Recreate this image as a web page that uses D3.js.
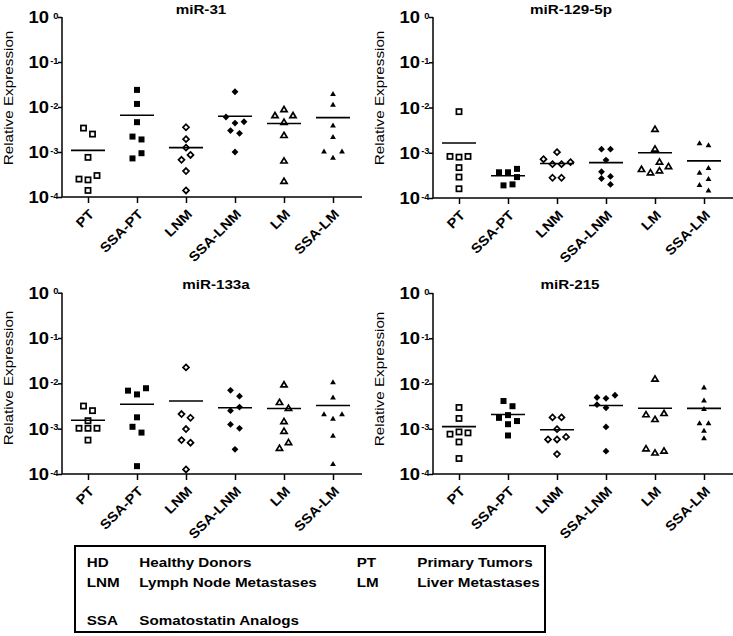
<!DOCTYPE html>
<html><head><meta charset="utf-8">
<script src="https://cdn.jsdelivr.net/npm/d3@7"></script>
<style>body{margin:0;background:#fff}svg{display:block}</style>
</head><body>
<svg id="c" width="733" height="636"></svg>
<script>
// ---------------- DATA ----------------
const categories = ["PT", "SSA-PT", "LNM", "SSA-LNM", "LM", "SSA-LM"];
const titles = ["miR-31", "miR-129-5p", "miR-133a", "miR-215"];
const yTickExponents = [0, -1, -2, -3, -4];
const yLabel = "Relative Expression";

const mir31 = [
  [2.5e-3, 3.4e-3, 7.6e-4, 2.4e-4, 2.5e-4, 3.0e-4, 1.4e-4],
  [0.024, 0.0117, 4.6e-3, 1.9e-3, 2.2e-3, 9.4e-4, 7.2e-4],
  [3.55e-3, 1.93e-3, 1.25e-3, 8.6e-4, 6.7e-4, 3.77e-4, 1.4e-4],
  [0.0218, 4.4e-3, 6.0e-3, 4.7e-3, 2.6e-3, 3.0e-3, 1.0e-3],
  [9.0e-3, 6.6e-3, 6.6e-3, 4.7e-3, 2.4e-3, 6.5e-4, 2.3e-4],
  [0.02, 0.0115, 4.0e-3, 2.2e-3, 7.6e-4, 1.05e-3, 1.05e-3]
];
const mir129 = [
  [8.1e-3, 8.0e-4, 8.3e-4, 8.3e-4, 4.7e-4, 2.9e-4, 1.6e-4],
  [3.7e-4, 3.7e-4, 4.4e-4, 2.9e-4, 2.0e-4, 1.9e-4],
  [1.03e-3, 5.6e-4, 5.6e-4, 6.2e-4, 7.2e-4, 2.8e-4, 2.8e-4],
  [1.2e-3, 1.2e-3, 6.9e-4, 3.0e-4, 3.8e-4, 2.7e-4, 2.0e-4],
  [3.4e-3, 1.24e-3, 6.4e-4, 4.1e-4, 3.7e-4, 5.1e-4, 4.4e-4],
  [1.5e-3, 1.67e-3, 4.7e-4, 3.7e-4, 2.7e-4, 2.0e-4, 1.5e-4]
];
const mir133a = [
  [2.5e-3, 3.16e-3, 1.5e-3, 1.02e-3, 1.02e-3, 1.02e-3, 5.6e-4],
  [5.7e-3, 6.9e-3, 7.8e-3, 1.78e-3, 8.2e-4, 1.1e-3, 1.49e-4],
  [0.0225, 1.74e-3, 2.1e-3, 9.8e-4, 4.9e-4, 5.6e-4, 1.26e-4],
  [5.2e-3, 7.0e-3, 3.0e-3, 2.5e-3, 1.02e-3, 1.24e-3, 3.5e-4],
  [9.5e-3, 2.9e-3, 3.9e-3, 1.48e-3, 9.0e-4, 5.1e-4, 3.8e-4],
  [0.0109, 5.0e-3, 1.7e-3, 2.14e-3, 2.14e-3, 7.2e-4, 1.7e-4]
];
const mir215 = [
  [2.95e-3, 1.69e-3, 8.5e-4, 7.6e-4, 8.1e-4, 5.1e-4, 2.2e-4],
  [3.15e-3, 4.1e-3, 2.0e-3, 1.74e-3, 1.48e-3, 1.26e-3, 7.1e-4],
  [1.78e-3, 1.78e-3, 9.8e-4, 5.8e-4, 5.8e-4, 6.6e-4, 2.75e-4],
  [4.7e-3, 4.9e-3, 5.5e-3, 3.4e-3, 2.9e-3, 1.1e-3, 3.2e-4],
  [0.0129, 1.65e-3, 2.1e-3, 2.24e-3, 3.0e-4, 3.7e-4, 3.3e-4],
  [8.4e-3, 4.3e-3, 2.8e-3, 1.35e-3, 1.35e-3, 9.3e-4, 6.3e-4]
];

const legendAbbrLeft = ["HD", "LNM", "", "SSA"];
const legendFullLeft = ["Healthy Donors", "Lymph Node Metastases", "", "Somatostatin Analogs"];
const legendAbbrRight = ["PT", "LM", "", ""];
const legendFullRight = ["Primary Tumors", "Liver Metastases", "", ""];

// ---------------- LAYOUT ----------------
const FONT = "'Liberation Sans', Arial, Helvetica, sans-serif";
const panels = [mir31, mir129, mir133a, mir215];
const layout = [
  {ox: 62,  top: 17,    bottom: 197, tx: 201, ty: 14,  lx: 13,  ly: 98},
  {ox: 433, top: 17,    bottom: 198, tx: 571, ty: 14,  lx: 384, ly: 98},
  {ox: 62,  top: 292.7, bottom: 474, tx: 216, ty: 289, lx: 13,  ly: 378},
  {ox: 433, top: 293,   bottom: 474, tx: 570, ty: 289, lx: 384, ly: 379}
];
const SPREAD = 9, TOUCH = 6.5;

const svg = d3.select("#c");

function label(parent, x, y, str, size, weight, anchor, sx, rot) {
  return parent.append("text")
    .attr("transform", `translate(${x},${y})` + (rot ? ` rotate(${rot})` : "") + ` scale(${sx},1)`)
    .attr("font-family", FONT).attr("font-size", size).attr("font-weight", weight)
    .attr("text-anchor", anchor).attr("fill", "#000").text(str);
}

function swarm(vals, y) {
  const placed = [];
  vals.forEach(v => {
    const py = y(v);
    const cands = [0];
    for (let k = 1; k < 8; k++) cands.push(-k * SPREAD, k * SPREAD);
    let off = 0;
    for (const c of cands) {
      if (!placed.some(p => Math.abs(p.dx - c) < SPREAD - 0.01 && Math.abs(p.py - py) < TOUCH)) { off = c; break; }
    }
    placed.push({v, py, dx: off});
  });
  const n = placed.length, comp = new Array(n).fill(-1);
  let nc = 0;
  for (let i = 0; i < n; i++) {
    if (comp[i] >= 0) continue;
    const st = [i]; comp[i] = nc;
    while (st.length) {
      const a = st.pop();
      for (let j = 0; j < n; j++) if (comp[j] < 0 && Math.abs(placed[j].py - placed[a].py) < TOUCH) { comp[j] = nc; st.push(j); }
    }
    nc++;
  }
  for (let k = 0; k < nc; k++) {
    const m = placed.filter((p, i) => comp[i] === k);
    const sh = -(d3.min(m, p => p.dx) + d3.max(m, p => p.dx)) / 2;
    m.forEach(p => p.dx += sh);
  }
  return placed;
}

function marker(parent, gi, cx, cy) {
  const open = gi % 2 === 0;
  const shape = Math.floor(gi / 2);
  let el;
  if (shape === 0) {
    const s = open ? 5.2 : 6;
    el = parent.append("rect").attr("x", cx - s / 2).attr("y", cy - s / 2).attr("width", s).attr("height", s);
  } else if (shape === 1) {
    const r = open ? 3.0 : 3.4;
    el = parent.append("path").attr("d", `M${cx},${cy - r}L${cx + r},${cy}L${cx},${cy + r}L${cx - r},${cy}Z`);
  } else {
    const w = open ? 6.2 : 5.8, h = open ? 5.2 : 5.0;
    el = parent.append("path").attr("d", `M${cx},${cy - h / 2}L${cx + w / 2},${cy + h / 2}L${cx - w / 2},${cy + h / 2}Z`);
  }
  if (open) el.attr("fill", "#fff").attr("stroke", "#000").attr("stroke-width", 1.7).attr("stroke-linejoin", "miter");
  else el.attr("fill", "#000");
}

panels.forEach((groups, pi) => {
  const L = layout[pi];
  const g = svg.append("g");
  const y = d3.scaleLog().domain([1e-4, 1]).range([L.bottom, L.top]);
  const x = d3.scalePoint().domain(categories).range([L.ox + 26, L.ox + 271]);

  // y axis
  const ya = g.append("g").attr("transform", `translate(${L.ox},0)`)
    .call(d3.axisLeft(y).tickValues(yTickExponents.map(e => Math.pow(10, e))).tickSize(4).tickFormat(""));
  ya.select(".domain").attr("stroke-width", 1.5).attr("d", `M0,${L.top}V${L.bottom}`);
  ya.selectAll(".tick line").attr("stroke-width", 1.5);

  // x axis
  const xa = g.append("g").attr("transform", `translate(0,${L.bottom})`)
    .call(d3.axisBottom(x).tickSize(6).tickFormat(""));
  xa.select(".domain").attr("stroke-width", 1.5).attr("d", `M${L.ox},0H${L.ox + 300}`);
  xa.selectAll(".tick line").attr("stroke-width", 1.5);

  // y tick labels 10^e
  yTickExponents.forEach(e => {
    const ty = y(Math.pow(10, e));
    label(g, L.ox - 13, ty + 6, "10", 16, "bold", "end", 1.15);
    label(g, L.ox - 3.5, ty + 1.5, e === 0 ? "0" : "-" + Math.abs(e), 8.5, "bold", "end", 1.1);
  });

  // x labels
  categories.forEach(c => {
    label(g, x(c) + 7, L.bottom + 18, c, 13.5, "bold", "end", 1.1, -45);
  });

  // title & y label
  label(g, L.tx, L.ty, titles[pi], 13, "bold", "middle", 1.17);
  label(g, L.lx, L.ly, yLabel, 13.5, "normal", "middle", 1.13, -90);

  // points & means
  groups.forEach((vals, gi) => {
    const cx = x(categories[gi]);
    swarm(vals, y).forEach(p => marker(g, gi, cx + p.dx, p.py));
    const m = d3.mean(vals);
    g.append("line").attr("x1", cx - 17).attr("x2", cx + 17)
      .attr("y1", y(m)).attr("y2", y(m)).attr("stroke", "#000").attr("stroke-width", 1.6);
  });
});

// legend
svg.append("rect").attr("x", 75).attr("y", 546).attr("width", 470).attr("height", 86)
  .attr("fill", "none").attr("stroke", "#000").attr("stroke-width", 2);
const rowY = [566.5, 586.5, 606, 625];
rowY.forEach((ry, i) => {
  if (legendAbbrLeft[i]) label(svg, 86.7, ry, legendAbbrLeft[i], 13, "bold", "start", 1.17);
  if (legendFullLeft[i]) label(svg, 139.3, ry, legendFullLeft[i], 13, "bold", "start", 1.17);
  if (legendAbbrRight[i]) label(svg, 356.7, ry, legendAbbrRight[i], 13, "bold", "start", 1.17);
  if (legendFullRight[i]) label(svg, 417.3, ry, legendFullRight[i], 13, "bold", "start", 1.17);
});
</script>
</body></html>
